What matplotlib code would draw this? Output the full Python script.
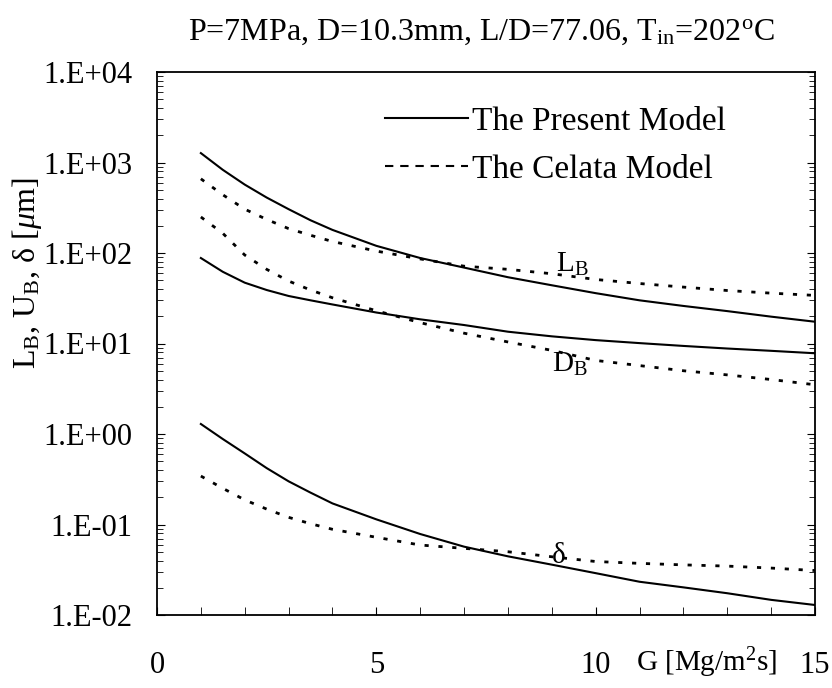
import matplotlib
matplotlib.use("Agg")
import matplotlib.pyplot as plt
from matplotlib.lines import Line2D
from matplotlib.ticker import LogLocator, NullFormatter

plt.rcParams['font.family'] = ['Liberation Serif', 'DejaVu Serif']
plt.rcParams['mathtext.fontset'] = 'custom'
plt.rcParams['mathtext.rm'] = 'Liberation Serif'
plt.rcParams['mathtext.it'] = 'Liberation Serif:italic'

# Mass flux G [Mg/m2s]
G = [1, 1.5, 2, 2.5, 3, 3.5, 4, 5, 6, 7, 8, 9, 10, 11, 12, 13, 14, 15]

# The present model (solid)
LB_present = [1270, 830, 570, 410, 305, 230, 180, 120, 88, 69, 54, 44, 36,
              30, 26, 22.8, 19.8, 17.4]
DB_present = [88, 62, 47, 39, 33.5, 30, 27, 22, 18.5, 16, 13.5, 12.0, 10.9,
              10.1, 9.4, 8.8, 8.3, 7.8]
delta_present = [1.29, 0.88, 0.61, 0.42, 0.30, 0.225, 0.171, 0.114, 0.0785,
                 0.0569, 0.0445, 0.036, 0.029, 0.0233, 0.0202, 0.0174,
                 0.0147, 0.0129]

# The Celata model (dotted)
LB_celata = [660, 440, 305, 235, 186, 157, 134, 105, 86, 71.5, 66, 59, 51,
             46, 42, 38.5, 36, 34]
DB_celata = [250, 165, 95, 66, 49, 39, 32, 23, 17, 13, 10.4, 8.4, 6.5, 5.7,
             5.0, 4.5, 4.0, 3.5]
delta_celata = [0.343, 0.251, 0.187, 0.148, 0.12, 0.102, 0.0885, 0.0722,
                0.0593, 0.0545, 0.050, 0.044, 0.039, 0.0372, 0.0358, 0.0347,
                0.033, 0.031]

ytick_vals = [1e-2, 1e-1, 1e0, 1e1, 1e2, 1e3, 1e4]
ytick_labels = ['1.E-02', '1.E-01', '1.E+00', '1.E+01', '1.E+02', '1.E+03',
                '1.E+04']
xtick_vals = [0, 5, 10, 15]
xtick_labels = ['0', '5', '10', '15']

fig = plt.figure(figsize=(8.32, 6.88), dpi=100)
ax = fig.add_axes([157 / 832, 1 - 615 / 688, 658 / 832, 543 / 688])

dots = (0, (1.5, 3.5))
for y in (LB_present, DB_present, delta_present):
    ax.plot(G, y, color='black', lw=1.5, ls='-')
for y in (LB_celata, DB_celata, delta_celata):
    ax.plot(G, y, color='black', lw=2.0, ls=dots)

ax.set_yscale('log')
ax.set_xlim(0, 15)
ax.set_ylim(1e-2, 1e4)
ax.set_yticks(ytick_vals)
ax.set_yticklabels(ytick_labels)
ax.yaxis.set_minor_locator(LogLocator(base=10, subs=range(2, 10)))
ax.yaxis.set_minor_formatter(NullFormatter())
ax.set_xticks(xtick_vals)
ax.set_xticklabels(xtick_labels)
ax.set_xticks(range(0, 16), minor=True)

ax.tick_params(axis='both', which='both', direction='in', color='black')
ax.tick_params(axis='y', which='both', left=True, right=True)
ax.tick_params(axis='y', which='major', length=6, labelsize=22, pad=18)
ax.tick_params(axis='y', which='minor', length=4)
ax.tick_params(axis='x', which='both', length=6, labelsize=22, pad=26)
for s in ax.spines.values():
    s.set_linewidth(1.3)

# curve labels
ax.text(9.1, 62, 'L$_\\mathrm{B}$', fontsize=21, ha='left', va='baseline')
ax.text(9.0, 4.9, 'D$_\\mathrm{B}$', fontsize=21, ha='left', va='baseline')
ax.text(9.0, 0.0376, 'δ', fontsize=21, ha='left', va='baseline')

# legend
handles = [Line2D([], [], color='black', lw=1.5, ls='-'),
           Line2D([], [], color='black', lw=1.5, ls=(0, (4, 3.3)))]
ax.legend(handles, ['The Present Model', 'The Celata Model'],
          loc='upper left', bbox_to_anchor=(0.3465, 0.937), frameon=False,
          fontsize=24, handlelength=2.5, handletextpad=0.1, borderpad=0,
          borderaxespad=0, labelspacing=0.52)

ax.text(0.836, -0.088, 'G [Mg/m$^\\mathrm{2}$s]', fontsize=21,
        ha='center', va='center', transform=ax.transAxes)

fig.text(27 / 832, 1 - 273 / 688, 'L$_\\mathrm{B}$, U$_\\mathrm{B}$, δ [$\\mu$m]',
         fontsize=23, rotation=90, ha='center', va='center')

fig.text(481 / 832, 1 - 32 / 688,
         'P=7MPa, D=10.3mm, L/D=77.06, T$_\\mathrm{in}$=202$^\\mathrm{o}$C',
         fontsize=23, ha='center', va='center')

fig.savefig('out.png', dpi=100, facecolor='white')
